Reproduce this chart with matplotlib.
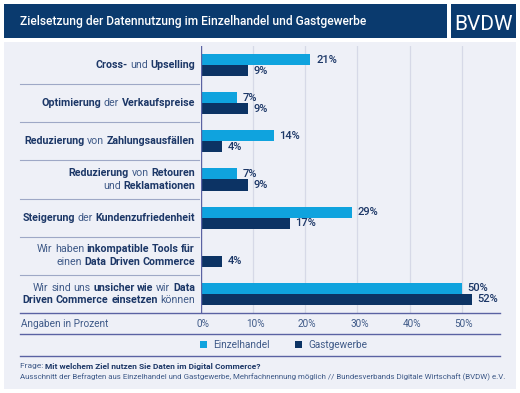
import matplotlib
matplotlib.use("Agg")
import matplotlib.pyplot as plt
from matplotlib.patches import Rectangle
from matplotlib.lines import Line2D

# --- data ---
categories = [
    "**Cross-** und **Upselling**",
    "**Optimierung** der **Verkaufspreise**",
    "**Reduzierung** von **Zahlungsausfällen**",
    "**Reduzierung** von **Retouren**\nund **Reklamationen**",
    "**Steigerung** der **Kundenzufriedenheit**",
    "Wir haben **inkompatible Tools für**\neinen **Data Driven Commerce**",
    "Wir sind uns **unsicher wie** wir **Data**\n**Driven Commerce einsetzen** können",
]
einzelhandel = [21, 7, 14, 7, 29, None, 50]
gastgewerbe = [9, 9, 4, 9, 17, 4, 52]
ticks = [0, 10, 20, 30, 40, 50]
series_names = ["Einzelhandel", "Gastgewerbe"]

title = "Zielsetzung der Datennutzung im Einzelhandel und Gastgewerbe"
frage = "Mit welchem Ziel nutzen Sie Daten im Digital Commerce?"
quelle = ("Ausschnitt der Befragten aus Einzelhandel und Gastgewerbe, Mehrfachnennung möglich "
          "// Bundesverbands Digitale Wirtschaft (BVDW) e.V.")

# --- style ---
NAVY = "#0a3a6e"
TEXT = "#1c3767"
TEXT_LIGHT = "#3f5a88"
LIGHT_BLUE = "#0fa3de"
DARK_BLUE = "#0c3364"
PANEL = "#eef0f7"
GRID = "#d6d9e7"
SEP = "#9ea8c6"
AXIS = "#5a62a3"

plt.rcParams['font.family'] = ['Roboto', 'DejaVu Sans']

W, H = 520, 393
fig = plt.figure(figsize=(W / 100, H / 100), dpi=100)
fig.patch.set_facecolor("white")


def fx(x):
    return x / W


def fy(y):
    return 1 - y / H


def frect(x0, y0, x1, y1, color, z=0):
    fig.add_artist(Rectangle((fx(x0), fy(y1)), fx(x1) - fx(x0), fy(y0) - fy(y1),
                             transform=fig.transFigure, facecolor=color,
                             edgecolor="none", zorder=z))


def fline(x0, x1, y, color, lw=0.8, z=1):
    fig.add_artist(Line2D([fx(x0), fx(x1)], [fy(y), fy(y)], transform=fig.transFigure,
                          color=color, lw=lw, zorder=z))


# panels
frect(4, 42, 516, 389, PANEL)
frect(4, 4, 447, 38, NAVY)
frect(451, 4, 516, 38, NAVY)
fig.text(fx(20), fy(21), title, color="white", fontsize=8.65, fontweight="medium",
         va="center", ha="left")
fig.text(fx(483.5), fy(25), "BVDW", color="white", fontsize=15, fontweight="normal",
         va="center", ha="center")

renderer = fig.canvas.get_renderer()


def text_width(s, weight, size):
    t = fig.text(0, 0, s, fontsize=size, fontweight=weight)
    w = t.get_window_extent(renderer).width
    t.remove()
    return w


def parse(line):
    segs = []
    parts = line.split("**")
    for i, p in enumerate(parts):
        for word in p.split(" "):
            if word:
                segs.append((word, i % 2 == 1))
    return segs


def rich(x, y, line, size):
    # right-aligned line with mixed bold / regular words
    segs = parse(line)
    space = (text_width("n n", "normal", size) - 2 * text_width("n", "normal", size))
    widths = [text_width(s, "bold" if b else "normal", size) for s, b in segs]
    total = sum(widths) + space * (len(segs) - 1)
    cur = x - total
    for (s, b), w in zip(segs, widths):
        fig.text(fx(cur), fy(y), s, fontsize=size, fontweight="bold" if b else "normal",
                 color=TEXT if b else TEXT_LIGHT, va="center", ha="left")
        cur += w + space


# --- bars ---
top, bottom = 46, 313
x0, x50 = 201, 461.7
xmax = (500 - x0) / ((x50 - x0) / 50)
ax = fig.add_axes([fx(x0), fy(bottom), fx(500) - fx(x0), fy(top) - fy(bottom)])
ax.set_facecolor("none")
n = len(categories)
ax.set_xlim(0, xmax)
ax.set_ylim(n - 0.5, -0.5)
for s in ax.spines.values():
    s.set_visible(False)
ax.set_xticks([])
ax.set_yticks([])
for t in ticks[1:]:
    ax.axvline(t, color=GRID, lw=0.9, zorder=0)
ax.axvline(0, color=AXIS, lw=1.0, zorder=3)

bh = 0.29
for i in range(n):
    for val, off, col in [(einzelhandel[i], -bh / 2, LIGHT_BLUE), (gastgewerbe[i], bh / 2, DARK_BLUE)]:
        if val is None:
            continue
        ax.barh(i + off, val, height=bh, color=col, zorder=2)
        ax.annotate(f"{val}%", (val, i + off), xytext=(4, 0), textcoords="offset points",
                    va="center", ha="left", fontsize=8.0, color=TEXT, fontweight="medium")

# category labels and separators
LBL = 7.7
row_h = (bottom - top) / n
for i, cat in enumerate(categories):
    cy = top + row_h * (i + 0.5)
    lines = cat.split("\n")
    if len(lines) == 1:
        rich(195, cy, lines[0], LBL)
    else:
        rich(195, cy - 6.3, lines[0], LBL)
        rich(195, cy + 6.3, lines[1], LBL)
    if i > 0:
        fline(20, 199, top + row_h * i, SEP, lw=0.8)

# axis line and tick row
fline(20, 500, bottom, AXIS, lw=1.0, z=4)
fig.text(fx(21), fy(324), "Angaben in Prozent", fontsize=7.2, color=TEXT_LIGHT,
         va="center", ha="left")
for t in ticks:
    fig.text(fx(x0 + t * (x50 - x0) / 50 + 2), fy(324), f"{t}%", fontsize=7.2,
             color=TEXT_LIGHT, va="center", ha="center")
fline(20, 500, 334, AXIS, lw=1.0)

# legend
for (lx, name, col) in [(200, series_names[0], LIGHT_BLUE), (295, series_names[1], DARK_BLUE)]:
    frect(lx, 341, lx + 7, 348, col, z=2)
    fig.text(fx(lx + 13), fy(345), name, fontsize=7.2, color=TEXT_LIGHT, va="center", ha="left")
fline(20, 500, 356, AXIS, lw=1.0)

# footnote
fig.text(fx(20), fy(366), "Frage: ", fontsize=6.0, color=TEXT_LIGHT, va="center", ha="left")
fw = text_width("Frage: n", "normal", 6.0) - text_width("n", "normal", 6.0)
fig.text(fx(20 + fw), fy(366), frage, fontsize=6.0, color=TEXT, fontweight="bold",
         va="center", ha="left")
fig.text(fx(20), fy(377), quelle, fontsize=5.65, color=TEXT_LIGHT, va="center", ha="left")

fig.savefig("out.png", dpi=100, facecolor=fig.get_facecolor())
